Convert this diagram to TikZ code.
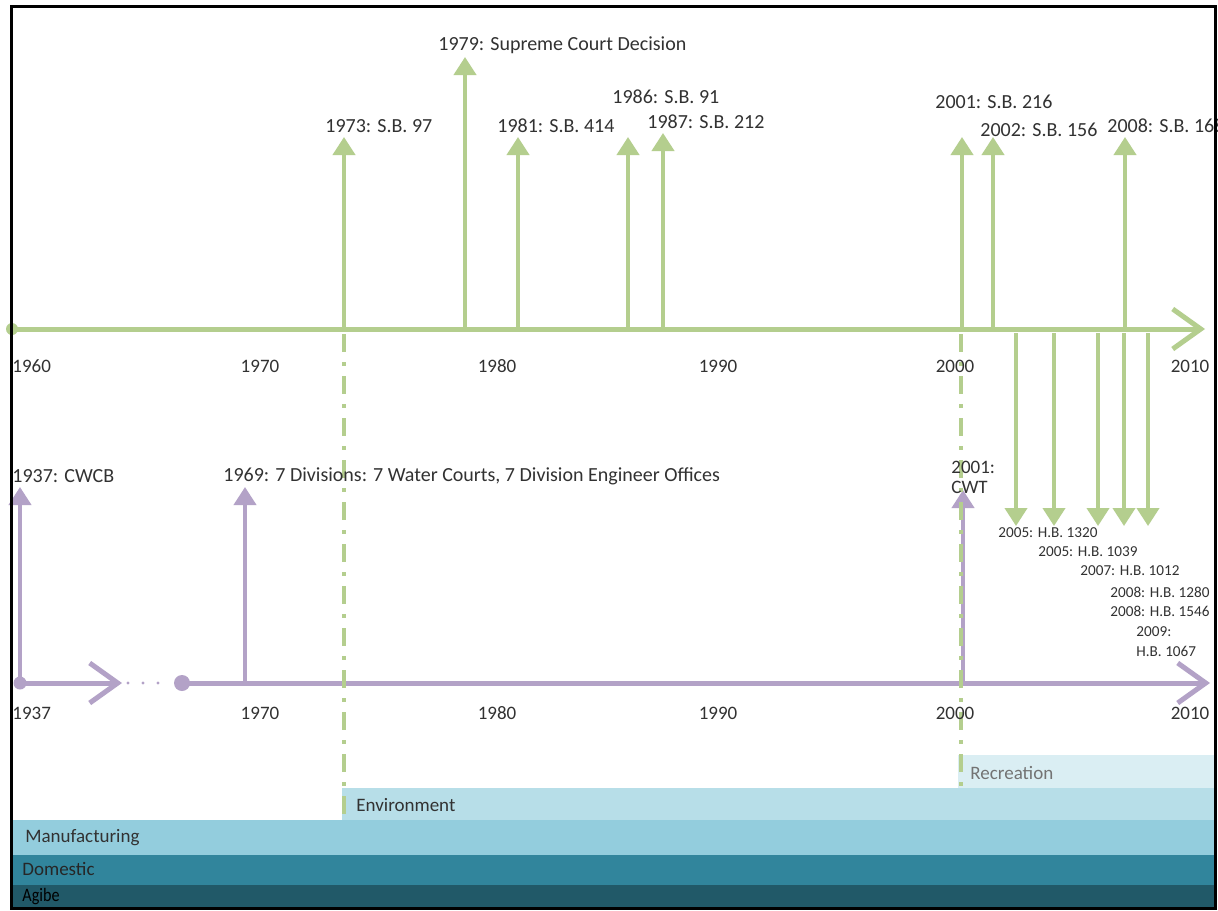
\documentclass[tikz,border=0pt]{standalone}
\usepackage{fontspec}
\setmainfont{Carlito}
\usetikzlibrary{arrows.meta}
\definecolor{leaf}{RGB}{180,206,142}
\definecolor{lilac}{RGB}{179,162,199}
\definecolor{labelgray}{RGB}{50,50,50}
\definecolor{bandRec}{RGB}{218,238,243}
\definecolor{bandEnv}{RGB}{183,222,232}
\definecolor{bandMan}{RGB}{147,205,221}
\definecolor{bandDom}{RGB}{49,133,156}
\definecolor{bandAgr}{RGB}{33,89,104}
\tikzset{
  evlabel/.style={anchor=west,inner sep=0pt,text=labelgray,font=\fontsize{10}{11}\selectfont},
  smalllabel/.style={anchor=west,inner sep=0pt,text=labelgray,font=\fontsize{7.6}{10}\selectfont,align=left},
  ticklabel/.style={inner sep=0pt,text=labelgray,font=\fontsize{9.5}{11}\selectfont},
  bandtext/.style={anchor=west,inner sep=0pt,text=labelgray,font=\fontsize{9.5}{11}\selectfont},
  gaxis/.style={draw=leaf,line width=2.5pt,-{Straight Barb[length=14pt,width=20pt,line width=2.5pt]}},
  paxis/.style={draw=lilac,line width=2.5pt,-{Straight Barb[length=14pt,width=20pt,line width=2.5pt]}},
  gstem/.style={draw=leaf,line width=2pt,-{Triangle[length=9pt,width=11pt]}},
  pstem/.style={draw=lilac,line width=2pt,-{Triangle[length=9pt,width=11pt]}},
  epoch/.style={draw=leaf,line width=2pt,dash pattern=on 9pt off 5pt on 2pt off 5pt},
}
\begin{document}
\begin{tikzpicture}[x=0.5pt,y=-0.5pt]
\useasboundingbox (0,0) rectangle (1218,910);
\fill[white] (0,0) rectangle (1218,910);

% ---- use bands ----
\fill[bandRec] (958,755) rectangle (1216,790);
\fill[bandEnv] (342,788) rectangle (1216,822);
\fill[bandMan] (12,820) rectangle (1216,855);
\fill[bandDom] (12,855) rectangle (1216,885);
\fill[bandAgr] (12,885) rectangle (1216,908);
\node[bandtext,text=black!55] (recreation) at (970,773) {Recreation};
\node[bandtext] (environment) at (356,805) {Environment};
\node[bandtext] (manufacturing) at (25,838) {Manufacturing};
\node[bandtext,text=black!85] (domestic) at (22,869) {Domestic};
\node[bandtext,text=black,font=\fontsize{9.5}{10}\selectfont] (agri) at (22,897) {\scalebox{0.85}[1]{Agibe}};

% ---- legislative axis (top) ----
\coordinate (gstart) at (12,329);
\coordinate (gend) at (1205,329);
\foreach \x/\n in {344/g73,465/g79,518/g81,628/g86,663/g87,962/g01,993/g02,1125/g08,1016/d05a,1054/d05b,1098/d07,1124/d08a,1148/d08b}
  \coordinate (\n) at (\x,329);
\foreach \x/\y/\n in {344/137/t73,465/57/t79,518/137/t81,628/137/t86,663/133/t87,962/137/t01,993/137/t02,1125/137/t08}
  \coordinate (\n) at (\x,\y);
\foreach \x/\n in {1016/e05a,1054/e05b,1098/e07,1124/e08a,1148/e08b}
  \coordinate (\n) at (\x,526);

% epoch markers
\coordinate (envtop) at (344,334);
\coordinate (envbot) at (344,822);
\coordinate (rectop) at (961,334);
\coordinate (recbot) at (961,790);

% ---- administrative axis (bottom) ----
\coordinate (pstart) at (20,683);
\coordinate (pbreak) at (122,683);
\coordinate (presume) at (182,683);
\coordinate (pend) at (1210,683);
\coordinate (p37) at (20,683);
\coordinate (p69) at (245,683);
\coordinate (p01) at (963,683);
\coordinate (q37) at (20,487);
\coordinate (q69) at (245,487);
\coordinate (q01) at (963,490);

\draw[paxis] (pstart) -- (pbreak);
\fill[lilac] (pstart) circle (6.5);
\foreach \x in {128,143,158} \fill[lilac] (\x,683) circle (1.6);
\draw[paxis] (presume) -- (pend);
\fill[lilac] (presume) circle (8);
\draw[pstem] (p37) -- (q37);
\draw[pstem] (p69) -- (q69);
\draw[pstem] (p01) -- (q01);

\draw[epoch] (envtop) -- (envbot);
\draw[epoch] (rectop) -- (recbot);

\draw[gaxis] (gstart) -- (gend);
\fill[leaf] (gstart) circle (6);
\foreach \a/\b in {g73/t73,g79/t79,g81/t81,g86/t86,g87/t87,g01/t01,g02/t02,g08/t08}
  \draw[gstem] (\a) -- (\b);
\foreach \a/\b in {d05a/e05a,d05b/e05b,d07/e07,d08a/e08a,d08b/e08b}
  \draw[gstem] ([yshift=-2pt]\a) -- (\b);

% ---- year ticks ----
\node[ticklabel,anchor=west] (y1960) at (12,366) {1960};
\node[ticklabel] (y1970) at (260,366) {1970};
\node[ticklabel] (y1980) at (497,366) {1980};
\node[ticklabel] (y1990) at (718,366) {1990};
\node[ticklabel] (y2000) at (955,366) {2000};
\node[ticklabel] (y2010) at (1190,366) {2010};
\node[ticklabel,anchor=west] (z1937) at (12,713) {1937};
\node[ticklabel] (z1970) at (260,713) {1970};
\node[ticklabel] (z1980) at (497,713) {1980};
\node[ticklabel] (z1990) at (718,713) {1990};
\node[ticklabel] (z2000) at (955,713) {2000};
\node[ticklabel] (z2010) at (1190,713) {2010};

% ---- legislation labels ----
\node[evlabel] (l79) at (438,45) {1979: Supreme Court Decision};
\node[evlabel] (l73) at (325,126) {1973: S.B. 97};
\node[evlabel] (l81) at (497,126) {1981: S.B. 414};
\node[evlabel] (l86) at (612,97) {1986: S.B. 91};
\node[evlabel] (l87) at (647,122) {1987: S.B. 212};
\node[evlabel] (l01) at (935,102) {2001: S.B. 216};
\node[evlabel] (l02) at (980,130) {2002: S.B. 156};
\node[evlabel] (l08) at (1107,126) {2008: S.B. 168};

\node[smalllabel] (h1320) at (998,533) {2005: H.B. 1320};
\node[smalllabel] (h1039) at (1038,552) {2005: H.B. 1039};
\node[smalllabel] (h1012) at (1080,571) {2007: H.B. 1012};
\node[smalllabel] (h1280) at (1110,592) {2008: H.B. 1280};
\node[smalllabel] (h1546) at (1110,611) {2008: H.B. 1546};
\node[smalllabel] (h1067) at (1136,642) {2009:\\H.B. 1067};

% ---- administrative labels ----
\node[evlabel] (cwcb) at (12,476) {1937: CWCB};
\node[evlabel] (divs) at (223,476) {1969: 7 Divisions: 7 Water Courts, 7 Division Engineer Offices};
\node[evlabel,align=left,font=\fontsize{9.5}{10}\selectfont] (cwt) at (951,477) {2001:\\CWT};

% frame
\draw[black,line width=1.5pt] (11,6) rectangle (1215,908);
\end{tikzpicture}
\end{document}
